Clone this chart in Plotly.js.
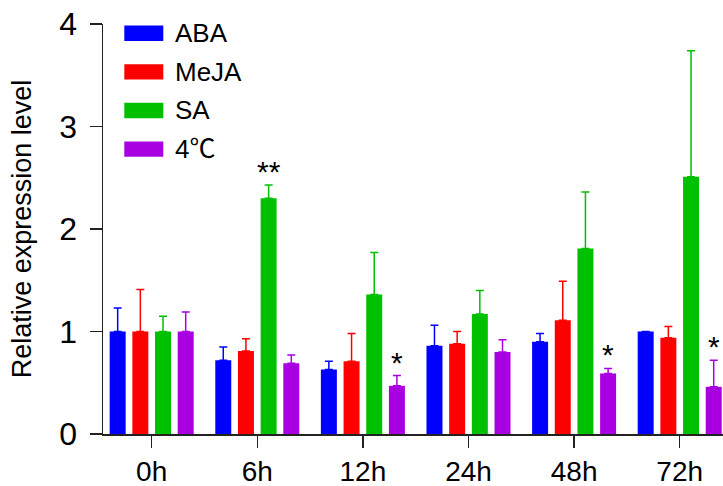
<!DOCTYPE html>
<html>
<head>
<meta charset="utf-8">
<script src="https://cdn.plot.ly/plotly-3.0.1.min.js"></script>
<style>html,body{margin:0;padding:0;background:#fff;}#chart{width:723px;height:486px;}</style>
</head>
<body>
<div id="chart"></div>
<script>
const categories = ["0h", "6h", "12h", "24h", "48h", "72h"];
const seriesNames = ["ABA", "MeJA", "SA", "4\u2103"];
const seriesColors = ["#0000FF", "#FF0000", "#00C000", "#A800E0"];

const abaMean  = [1.00, 0.72, 0.63, 0.86, 0.90, 1.00];
const abaErr   = [0.23, 0.13, 0.08, 0.20, 0.08, 0.00];
const mejaMean = [1.00, 0.81, 0.71, 0.88, 1.11, 0.94];
const mejaErr  = [0.41, 0.12, 0.27, 0.12, 0.38, 0.11];
const saMean   = [1.00, 2.30, 1.36, 1.17, 1.81, 2.51];
const saErr    = [0.15, 0.13, 0.41, 0.23, 0.55, 1.23];
const coldMean = [1.00, 0.69, 0.47, 0.80, 0.59, 0.46];
const coldErr  = [0.19, 0.08, 0.10, 0.12, 0.05, 0.26];

// significance marks per series (index matches seriesNames)
const abaSig  = ["", "", "", "", "", ""];
const mejaSig = ["", "", "", "", "", ""];
const saSig   = ["", "**", "", "", "", ""];
const coldSig = ["", "", "*", "", "*", "*"];

const yTicks = [0, 1, 2, 3, 4];
const yTitle = "Relative expression level";

const means = [abaMean, mejaMean, saMean, coldMean];
const errs = [abaErr, mejaErr, saErr, coldErr];
const sigs = [abaSig, mejaSig, saSig, coldSig];

const FONT = "Liberation Sans, Arial, Noto Sans CJK SC, sans-serif";
const W = 723, H = 486;
const mL = 103, mR = 0, mT = 24, mB = 52;
const plotW = W - mL - mR, plotH = H - mT - mB;

const traces = seriesNames.map((name, s) => ({
  type: "bar",
  name: name,
  x: categories,
  y: means[s],
  marker: {color: seriesColors[s], line: {width: 0}},
  error_y: {
    type: "data", symmetric: false,
    array: errs[s], arrayminus: errs[s].map(() => 0),
    color: seriesColors[s], thickness: 1.5, width: 4
  },
  showlegend: false,
  hoverinfo: "skip"
}));

// group geometry (px) for placing significance marks
const bargap = 0.141, bargroupgap = 0.295;
const xRange = [-0.461, 5.41];
const pxPerCat = plotW / (xRange[1] - xRange[0]);
const slot = pxPerCat * (1 - bargap) / seriesNames.length;

const annotations = [];
seriesNames.forEach((name, s) => {
  sigs[s].forEach((mark, i) => {
    if (!mark) return;
    annotations.push({
      x: categories[i], y: means[s][i] + errs[s][i],
      xref: "x", yref: "y",
      xshift: (s - (seriesNames.length - 1) / 2) * slot,
      yshift: -5,
      text: mark, showarrow: false,
      xanchor: "center", yanchor: "bottom",
      font: {family: FONT, size: 30, color: "#000"}
    });
  });
});

// custom legend (wide colour blocks)
const shapes = [];
const legRowY0 = 33.3, legRowStep = 38.6;
const boxX0 = 124.3, boxX1 = 163.3, boxHalfH = 7.7, textX = 173;
seriesNames.forEach((name, s) => {
  const cy = legRowY0 + s * legRowStep;
  shapes.push({
    type: "rect", xref: "paper", yref: "paper",
    x0: (boxX0 - mL) / plotW, x1: (boxX1 - mL) / plotW,
    y0: 1 - (cy + boxHalfH - mT) / plotH, y1: 1 - (cy - boxHalfH - mT) / plotH,
    fillcolor: seriesColors[s], line: {width: 0}
  });
  annotations.push({
    x: (textX - mL) / plotW, y: 1 - (cy - mT) / plotH,
    xref: "paper", yref: "paper",
    text: name, showarrow: false,
    xanchor: "left", yanchor: "middle",
    font: {family: FONT, size: 26, color: "#000"}
  });
});

const layout = {
  width: W, height: H,
  margin: {l: mL, r: mR, t: mT, b: mB},
  paper_bgcolor: "#fff", plot_bgcolor: "#fff",
  barmode: "group", bargap: bargap, bargroupgap: bargroupgap,
  font: {family: FONT, color: "#000"},
  xaxis: {
    type: "category", range: xRange,
    showgrid: false, zeroline: false,
    showline: true, linecolor: "#222", linewidth: 1.5,
    ticks: "outside", ticklen: 12, tickwidth: 1.5, tickcolor: "#222",
    tickfont: {family: FONT, size: 28, color: "#000"},
    ticklabelstandoff: 0,
    automargin: false,
    fixedrange: true
  },
  yaxis: {
    range: [0, 4], tickvals: yTicks, ticktext: yTicks.map(String),
    showgrid: false, zeroline: false,
    showline: true, linecolor: "#222", linewidth: 1.5,
    ticks: "outside", ticklen: 12, tickwidth: 1.5, tickcolor: "#222",
    tickfont: {family: FONT, size: 32, color: "#000"},
    ticklabelstandoff: 6,
    automargin: false,
    title: {text: yTitle, font: {family: FONT, size: 27, color: "#000"}, standoff: 20},
    fixedrange: true
  },
  shapes: shapes,
  annotations: annotations
};

Plotly.newPlot("chart", traces, layout, {displayModeBar: false, staticPlot: true});
</script>
</body>
</html>
